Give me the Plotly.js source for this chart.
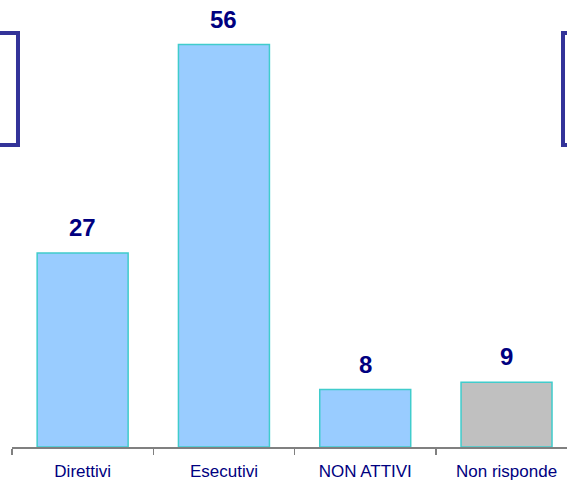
<!DOCTYPE html>
<html>
<head>
<meta charset="utf-8">
<script src="https://cdn.plot.ly/plotly-3.0.1.min.js"></script>
<style>
html, body { margin: 0; padding: 0; background: #ffffff; }
#chart { width: 567px; height: 482px; }
</style>
</head>
<body>
<div id="chart"></div>
<script>
// Data
const categories = ["Direttivi", "Esecutivi", "NON ATTIVI", "Non risponde"];
const values = [27, 56, 8, 9];
const valueLabels = ["27", "56", "8", "9"];

const blueFill = "#99ccff";
const greyFill = "#c0c0c0";
const barColors = categories.map(c => c === "Non risponde" ? greyFill : blueFill);

const trace = {
  type: "bar",
  x: categories,
  y: values,
  width: 0.644,
  marker: {
    color: barColors,
    line: { color: "#40cccc", width: 1.5 }
  },
  hoverinfo: "none"
};

const annotations = categories.map((c, i) => ({
  x: c,
  y: values[i],
  xref: "x",
  yref: "y",
  text: valueLabels[i],
  showarrow: false,
  yanchor: "bottom",
  yshift: 10,
  font: { family: "Liberation Sans, Arial, sans-serif", size: 24, color: "#000080", weight: "bold" }
}));

const boxLine = { color: "#333399", width: 4 };
const shapes = [
  { type: "rect", xref: "paper", yref: "paper", x0: -0.2, x1: 0.0108, y0: 0.6756, y1: 0.926, line: boxLine, fillcolor: "rgba(0,0,0,0)" },
  { type: "rect", xref: "paper", yref: "paper", x0: 0.9928, x1: 1.2, y0: 0.6756, y1: 0.926, line: boxLine, fillcolor: "rgba(0,0,0,0)" }
];

const layout = {
  width: 567,
  height: 482,
  margin: { l: 12, r: 0, t: 0, b: 35, pad: 0 },
  paper_bgcolor: "#ffffff",
  plot_bgcolor: "#ffffff",
  showlegend: false,
  font: { family: "Liberation Sans, Arial, sans-serif", color: "#000080" },
  xaxis: {
    type: "category",
    range: [-0.5, 3.428],
    tickson: "boundaries",
    ticks: "outside",
    ticklen: 6,
    tickwidth: 1.5,
    tickcolor: "#808080",
    ticklabelstandoff: 8,
    showline: true,
    linecolor: "#808080",
    linewidth: 1.5,
    showgrid: false,
    zeroline: false,
    tickfont: { family: "Liberation Sans, Arial, sans-serif", size: 17, color: "#000080" },
    fixedrange: true
  },
  yaxis: {
    range: [0, 62.2],
    visible: false,
    showgrid: false,
    zeroline: false,
    fixedrange: true
  },
  annotations: annotations,
  shapes: shapes
};

Plotly.newPlot("chart", [trace], layout, { displayModeBar: false, staticPlot: true });
</script>
</body>
</html>
